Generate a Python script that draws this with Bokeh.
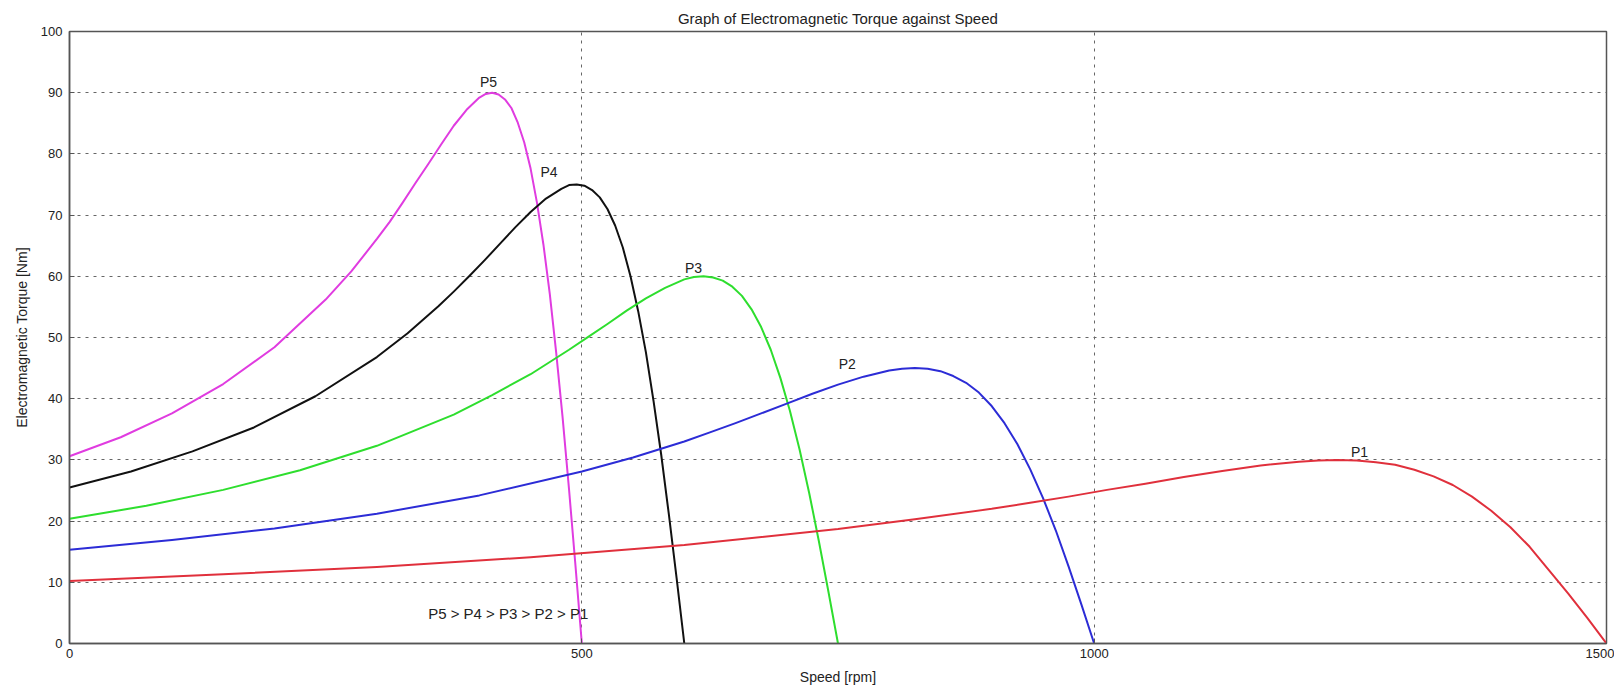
from bokeh.plotting import figure
from bokeh.embed import file_html
from bokeh.resources import INLINE
from bokeh.models import Range1d, FixedTicker, ColumnDataSource
from bokeh.core.properties import value

# ---- data ----
p5_speed = [0, 50, 100, 150, 200, 250, 275, 300, 312.5, 325, 337.5, 350, 362.5, 375, 387.5, 400,
            406.25, 412.5, 418.75, 425, 431.25, 437.5, 443.75, 450, 456.25, 462.5, 468.75, 475,
            481.25, 487.5, 493.75, 500]
p5_torque = [30.6, 33.7, 37.6, 42.4, 48.4, 56.2, 60.8, 66.1, 68.9, 72.0, 75.2, 78.3, 81.5, 84.6, 87.2, 89.2,
             89.8, 90.0, 89.7, 88.9, 87.5, 85.1, 81.9, 77.6, 72.0, 65.2, 57.1, 47.5,
             36.9, 25.2, 12.8, 0]

p4_speed = [0, 60, 120, 180, 240, 300, 330, 360, 375, 390, 405, 420, 435, 450, 465, 480,
            487.5, 495, 502.5, 510, 517.5, 525, 532.5, 540, 547.5, 555, 562.5, 570,
            577.5, 585, 592.5, 600]
p4_torque = [25.5, 28.1, 31.4, 35.3, 40.4, 46.8, 50.7, 55.1, 57.5, 60.0, 62.6, 65.3, 68.0, 70.5, 72.7, 74.3,
             74.9, 75.0, 74.8, 74.1, 72.9, 71.0, 68.3, 64.7, 60.0, 54.3, 47.6, 39.6,
             30.8, 21.0, 10.7, 0]

p3_speed = [0, 75, 150, 225, 300, 375, 412.5, 450, 468.75, 487.5, 506.25, 525, 543.75, 562.5, 581.25, 600,
            609.375, 618.75, 628.125, 637.5, 646.875, 656.25, 665.625, 675, 684.375, 693.75, 703.125, 712.5,
            721.875, 731.25, 740.625, 750]
p3_torque = [20.4, 22.5, 25.1, 28.3, 32.3, 37.4, 40.6, 44.0, 46.0, 48.0, 50.1, 52.2, 54.4, 56.4, 58.1, 59.5,
             59.9, 60.0, 59.8, 59.3, 58.3, 56.8, 54.6, 51.7, 48.0, 43.4, 38.0, 31.7,
             24.6, 16.8, 8.5, 0]

p2_speed = [0, 100, 200, 300, 400, 500, 550, 600, 625, 650, 675, 700, 725, 750, 775, 800,
            812.5, 825, 837.5, 850, 862.5, 875, 887.5, 900, 912.5, 925, 937.5, 950,
            962.5, 975, 987.5, 1000]
p2_torque = [15.3, 16.9, 18.8, 21.2, 24.2, 28.1, 30.4, 33.0, 34.5, 36.0, 37.6, 39.2, 40.8, 42.3, 43.6, 44.6,
             44.9, 45.0, 44.9, 44.5, 43.7, 42.6, 41.0, 38.8, 36.0, 32.6, 28.5, 23.8,
             18.5, 12.6, 6.4, 0]

p1_speed = [0, 150, 300, 450, 600, 750, 825, 900, 937.5, 975, 1012.5, 1050, 1087.5, 1125, 1162.5, 1200,
            1218.75, 1237.5, 1256.25, 1275, 1293.75, 1312.5, 1331.25, 1350, 1368.75, 1387.5, 1406.25, 1425,
            1443.75, 1462.5, 1481.25, 1500]
p1_torque = [10.2, 11.3, 12.5, 14.1, 16.1, 18.7, 20.3, 22.0, 23.0, 24.0, 25.1, 26.1, 27.2, 28.2, 29.1, 29.7,
             29.9, 30.0, 29.9, 29.6, 29.2, 28.4, 27.3, 25.9, 24.0, 21.7, 19.0, 15.8,
             12.0, 8.2, 4.2, 0]

curve_names = ["P5", "P4", "P3", "P2", "P1"]
x_ticks = [0, 500, 1000, 1500]
y_ticks = [0, 10, 20, 30, 40, 50, 60, 70, 80, 90, 100]

title_text = "Graph of Electromagnetic Torque against Speed"
x_label = "Speed [rpm]"
y_label = "Electromagnetic Torque [Nm]"
order_note = "P5 > P4 > P3 > P2 > P1"

# label anchor points (annotation placement)
label_x = [409, 468, 609, 759, 1259]
label_y = [91.8, 77.0, 61.4, 45.6, 31.3]
note_x = 350
note_y = 4.9

FONT = "Liberation Sans"

p = figure(width=1614, height=688, output_backend="svg", toolbar_location=None,
           x_range=Range1d(0, 1500), y_range=Range1d(0, 100),
           min_border_left=69, min_border_right=8, min_border_top=31, min_border_bottom=45,
           title=title_text)

p.title.align = "center"
p.title.text_font = FONT
p.title.text_font_size = "15px"
p.title.text_font_style = "normal"
p.title.text_color = "#222222"
p.title.standoff = 9

p.outline_line_color = "#555555"
p.outline_line_width = 1.5

for ax in (p.xaxis[0], p.yaxis[0]):
    ax.axis_line_color = "#555555"
    ax.axis_line_width = 1.5
    ax.major_tick_in = 5
    ax.major_tick_out = 0
    ax.major_tick_line_color = "#555555"
    ax.minor_tick_line_color = None
    ax.major_label_text_font = FONT
    ax.major_label_text_font_size = "13px"
    ax.major_label_text_color = "#222222"
    ax.axis_label_text_font = FONT
    ax.axis_label_text_font_size = "14px"
    ax.axis_label_text_font_style = "normal"
    ax.axis_label_text_color = "#222222"

p.xaxis.ticker = FixedTicker(ticks=x_ticks)
p.yaxis.ticker = FixedTicker(ticks=y_ticks)
p.xaxis.axis_label = x_label
p.yaxis.axis_label = y_label
p.xaxis.major_label_standoff = 5
p.xaxis.axis_label_standoff = 8
p.yaxis.major_label_standoff = 7
p.yaxis.axis_label_standoff = 8

p.xgrid.grid_line_color = "#666666"
p.xgrid.grid_line_dash = "3 5"
p.xgrid.grid_line_width = 1
p.ygrid.grid_line_color = "#666666"
p.ygrid.grid_line_dash = "3 5"
p.ygrid.grid_line_width = 1

series = [
    (p5_speed, p5_torque, "#e03ce0"),
    (p4_speed, p4_torque, "#111111"),
    (p3_speed, p3_torque, "#2ede2e"),
    (p2_speed, p2_torque, "#2c2cd6"),
    (p1_speed, p1_torque, "#e0303c"),
]
for xs, ys, c in series:
    p.line(xs, ys, line_color=c, line_width=2, line_join="round")

lab_src = ColumnDataSource(dict(x=label_x, y=label_y, t=curve_names))
p.text(x="x", y="y", text="t", source=lab_src, text_font=value(FONT), text_font_size="14px",
       text_align="center", text_baseline="middle", text_color="#222222")

p.text(x=[note_x], y=[note_y], text=[order_note], text_font=value(FONT), text_font_size="15px",
       text_align="left", text_baseline="middle", text_color="#222222")

open("out.html", "w").write(file_html(p, INLINE))
